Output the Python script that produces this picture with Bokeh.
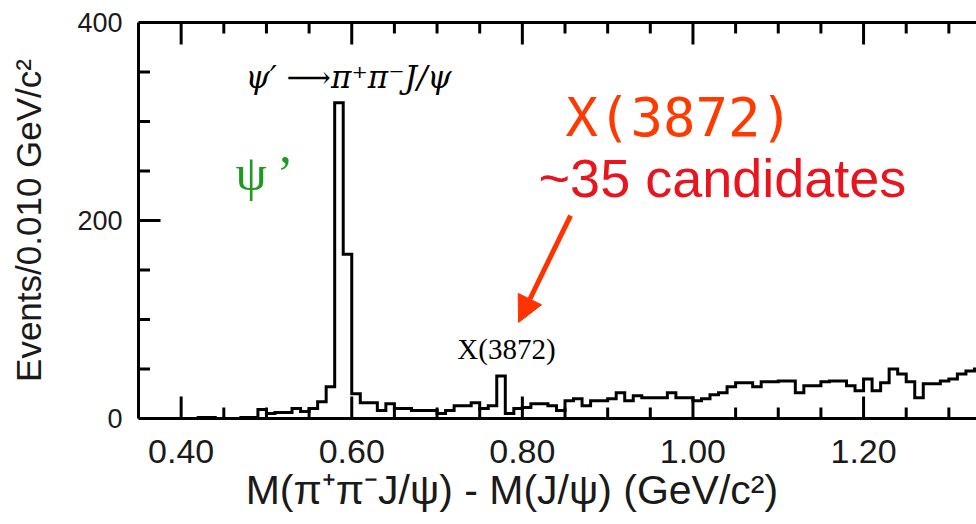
import numpy as np
from bokeh.plotting import figure
from bokeh.models import (Range1d, LinearAxis, FixedTicker, NumeralTickFormatter,
                          Label, Arrow, NormalHead)
from bokeh.embed import file_html
from bokeh.resources import INLINE

# ---------------- data ----------------
bin_start = 0.35
bin_width = 0.01
counts = [
    0, 0, 0, 0, 0, 0, 0, 1, 1, 0,          # 0.35 - 0.44
    0, 0, 1, 1, 9, 5, 6, 6, 10, 7,         # 0.45 - 0.54
    10, 17, 32, 319, 166, 25, 16, 16, 8, 15,  # 0.55 - 0.64
    10, 10, 8, 8, 8, 5, 8, 13, 13, 16,     # 0.65 - 0.74
    10, 13, 43, 5, 10, 11, 15, 15, 13, 8,  # 0.75 - 0.84
    18, 20, 13, 18, 18, 20, 26, 18, 23, 21,  # 0.85 - 0.94
    21, 21, 26, 21, 21, 18, 20, 24, 26, 32,  # 0.95 - 1.04
    36, 36, 32, 37, 37, 38, 38, 26, 33, 33,  # 1.05 - 1.14
    37, 38, 38, 33, 28, 40, 28, 36, 50, 45,  # 1.15 - 1.24
    37, 21, 35, 35, 38, 40, 45, 48, 50, 48,  # 1.25 - 1.34
]
x_major_ticks = [0.40, 0.60, 0.80, 1.00, 1.20]
x_minor_ticks = [0.45, 0.50, 0.55, 0.65, 0.70, 0.75, 0.85, 0.90, 0.95,
                 1.05, 1.10, 1.15, 1.25, 1.30]
y_major_ticks = [0, 200, 400]
y_minor_ticks = [50, 100, 150, 250, 300, 350]

X_LO, X_HI = 0.35, 1.3324
Y_LO, Y_HI = 0, 400
# tick lengths expressed in y data units (frame: 396 px for 400 events)
MAJ_LEN_Y = 22.2
MIN_LEN_Y = 11.1

# ---------------- figure ----------------
p = figure(width=976, height=524,
           x_range=Range1d(X_LO, X_HI), y_range=Range1d(Y_LO, Y_HI),
           output_backend="svg", toolbar_location=None,
           min_border_left=138, min_border_right=0,
           min_border_top=22, min_border_bottom=106)
p.outline_line_color = None
p.grid.visible = False
p.background_fill_color = "white"
p.border_fill_color = "white"

xa = p.below[0]
ya = p.left[0]
top_axis = LinearAxis(ticker=FixedTicker(ticks=[], minor_ticks=[]))
p.add_layout(top_axis, "above")

xa.ticker = FixedTicker(ticks=list(x_major_ticks), minor_ticks=list(x_minor_ticks))
ya.ticker = FixedTicker(ticks=list(y_major_ticks), minor_ticks=list(y_minor_ticks))

for ax in [xa, ya, top_axis]:
    ax.axis_line_width = 3
    ax.axis_line_color = "black"
    ax.major_tick_in = 0
    ax.major_tick_out = 0
    ax.minor_tick_in = 0
    ax.minor_tick_out = 0
    ax.major_tick_line_color = None
    ax.minor_tick_line_color = None

xa.formatter = NumeralTickFormatter(format="0.00")
xa.major_label_text_font = "Liberation Sans"
xa.major_label_text_font_size = "34px"
xa.major_label_text_color = "#1a1a1a"
xa.major_label_standoff = 21
# trailing no-break spaces shift the centred title left, as in the reference
xa.axis_label = "M(π⁺π⁻J/ψ) - M(J/ψ) (GeV/c²)" + "\u00a0" * 8
xa.axis_label_text_font = "Liberation Sans"
xa.axis_label_text_font_style = "normal"
xa.axis_label_text_font_size = "41px"
xa.axis_label_text_color = "#1a1a1a"
xa.axis_label_standoff = 1

ya.major_label_text_font = "Liberation Sans"
ya.major_label_text_font_size = "27px"
ya.major_label_text_color = "#1a1a1a"
ya.major_label_standoff = 16
ya.axis_label = "Events/0.010 GeV/c²"
ya.axis_label_text_font = "Liberation Sans"
ya.axis_label_text_font_style = "normal"
ya.axis_label_text_font_size = "35px"
ya.axis_label_text_color = "#1a1a1a"
ya.axis_label_standoff = 26

# ---------------- inward ticks ----------------
# left side: horizontal dashes centred on the spine (outer half clipped)
tick_kw = dict(marker="dash", line_color="black", line_width=3, fill_color=None)
p.scatter(x=[X_LO] * len(y_major_ticks), y=list(y_major_ticks), size=44, **tick_kw)
p.scatter(x=[X_LO] * len(y_minor_ticks), y=list(y_minor_ticks), size=23, **tick_kw)


def tick_path(ticks, base, length):
    """Vertical tick marks as one broken line (NaN separated)."""
    t = np.asarray(ticks, dtype=float)
    n = len(t)
    px = np.column_stack([t, t, np.full(n, np.nan)]).ravel()
    py = np.column_stack([np.full(n, float(base)), np.full(n, float(base + length)),
                          np.full(n, np.nan)]).ravel()
    return px, py


for base, sign in ((Y_LO, 1.0), (Y_HI, -1.0)):
    for ticks, ln in ((x_major_ticks, MAJ_LEN_Y), (x_minor_ticks, MIN_LEN_Y)):
        tx, ty = tick_path(ticks, base, sign * ln)
        p.line(tx, ty, line_color="black", line_width=3)

# ---------------- histogram ----------------
vals = np.array(counts, dtype=float)
edges = bin_start + bin_width * np.arange(len(vals) + 1)
xs = np.concatenate([[edges[0]], np.repeat(edges, 2)[1:-1], [edges[-1]]])
ys = np.concatenate([[0.0], np.repeat(vals, 2), [0.0]])
p.line(xs, ys, line_color="black", line_width=3, line_join="miter")

# ---------------- annotations ----------------
p.add_layout(Label(x=0.602, y=345, text="ψ′  ⟶π⁺π⁻J/ψ",
                   text_font="DejaVu Serif", text_font_style="italic",
                   text_font_size="31px", text_color="black",
                   text_align="center", text_baseline="middle"))
p.add_layout(Label(x=0.4977, y=248, text="ψ\u2009’",
                   text_font="Liberation Serif", text_font_size="50px",
                   text_color="#1e9b1e",
                   text_align="center", text_baseline="middle"))
p.add_layout(Label(x=0.7814, y=70, text="X(3872)",
                   text_font="Liberation Serif", text_font_size="29px",
                   text_color="black",
                   text_align="center", text_baseline="middle"))
p.add_layout(Label(x=0.984, y=304, text="X(3872)",
                   text_font="DejaVu Sans Mono", text_font_size="54px",
                   text_color="#ff3a00",
                   text_align="center", text_baseline="middle"))
p.add_layout(Label(x=1.0346, y=243, text="~35 candidates",
                   text_font="Liberation Sans", text_font_size="54px",
                   text_color="#e8141e",
                   text_align="center", text_baseline="middle"))
p.add_layout(Arrow(x_start=0.8565, y_start=205, x_end=0.7955, y_end=97,
                   line_color="#ff3300", line_width=5,
                   end=NormalHead(size=26, fill_color="#ff3300",
                                  line_color="#ff3300", line_width=1)))

open("out.html", "w").write(file_html(p, INLINE))
